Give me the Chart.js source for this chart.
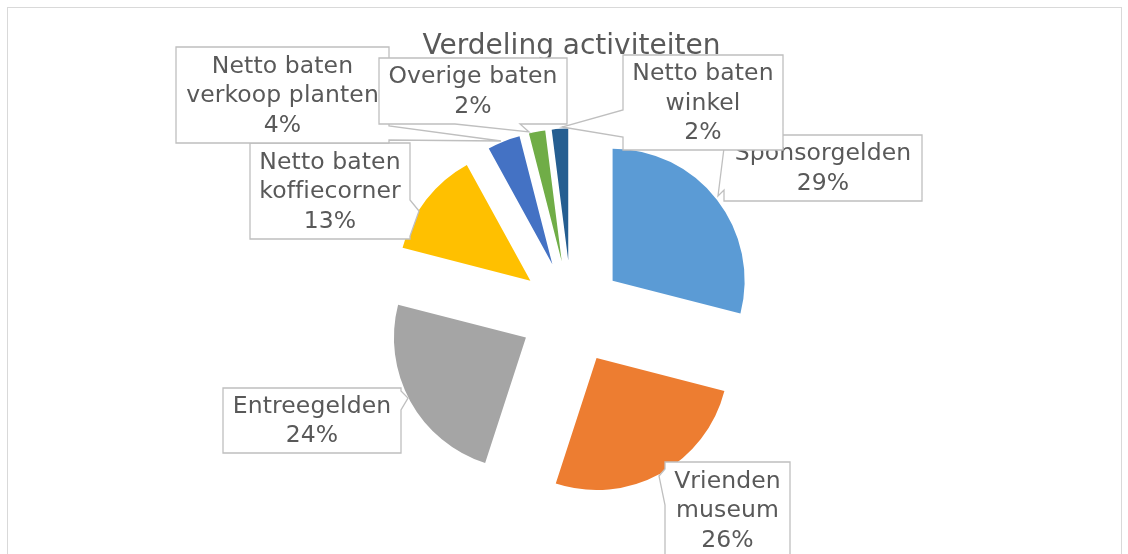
<!DOCTYPE html>
<html>
<head>
<meta charset="utf-8">
<title>Verdeling activiteiten</title>
<script src="https://cdn.jsdelivr.net/npm/chart.js@4.4.1/dist/chart.umd.min.js"></script>
<style>
  html, body { margin: 0; padding: 0; background: #ffffff; overflow: hidden; }
  #wrap { position: relative; width: 1128px; height: 554px; }
</style>
</head>
<body>
<div id="wrap"><canvas id="chart"></canvas></div>
<script>
const labels = ['Sponsorgelden', 'Vrienden museum', 'Entreegelden', 'Netto baten koffiecorner',
  'Netto baten verkoop planten', 'Overige baten', 'Netto baten winkel'];
const shares = [29, 26, 24, 13, 4, 2, 2];
const sliceColors = ['#5b9bd5', '#ed7d31', '#a5a5a5', '#ffc000', '#4472c4', '#70ad47', '#255e91'];

const textColor = '#595959';
const labelFont = '23.5px "DejaVu Sans", Verdana, sans-serif';
const EXPLODE = 52; // how far each slice is pulled out of the centre

// where the data label boxes sit, and the edge their pointer leaves from
const calloutBoxes = [
  { x: 724, y: 135, w: 198, h: 66, edge: 'left', from: 148, to: 190, tip: [718, 196] },
  { x: 665, y: 462, w: 125, h: 96, edge: 'left', from: 469, to: 505, tip: [659, 476] },
  { x: 223, y: 388, w: 178, h: 65, edge: 'right', from: 391, to: 410, tip: [408, 398] },
  { x: 250, y: 143, w: 160, h: 96, edge: 'right', from: 200, to: 236, tip: [419, 211] },
  { x: 176, y: 47, w: 213, h: 96, edge: 'right', from: 126, to: 140, tip: [501, 141] },
  { x: 379, y: 58, w: 188, h: 66, edge: 'bottom', from: 455, to: 520, tip: [529, 132] },
  { x: 623, y: 55, w: 160, h: 95, edge: 'left', from: 110, to: 137, tip: [562, 127] }
];

function wrapWords(ctx, text, maxWidth) {
  const words = text.split(' ');
  const lines = [];
  let line = '';
  words.forEach(word => {
    const test = line ? line + ' ' + word : word;
    if (line && ctx.measureText(test).width > maxWidth) {
      lines.push(line);
      line = word;
    } else {
      line = test;
    }
  });
  if (line) lines.push(line);
  return lines;
}

function calloutPath(ctx, b) {
  const x0 = b.x, y0 = b.y, x1 = b.x + b.w, y1 = b.y + b.h;
  const pts = [[x0, y0]];
  if (b.edge === 'top') pts.push([b.from, y0], b.tip, [b.to, y0]);
  pts.push([x1, y0]);
  if (b.edge === 'right') pts.push([x1, b.from], b.tip, [x1, b.to]);
  pts.push([x1, y1]);
  if (b.edge === 'bottom') pts.push([b.to, y1], b.tip, [b.from, y1]);
  pts.push([x0, y1]);
  if (b.edge === 'left') pts.push([x0, b.to], b.tip, [x0, b.from]);
  ctx.beginPath();
  pts.forEach((p, i) => i ? ctx.lineTo(p[0], p[1]) : ctx.moveTo(p[0], p[1]));
  ctx.closePath();
}

// pulls every slice outwards along its middle angle
const explodePlugin = {
  id: 'explode',
  afterDatasetUpdate(chart, args) {
    const meta = chart.getDatasetMeta(args.index);
    const area = chart.chartArea;
    const cx = (area.left + area.right) / 2;
    const cy = (area.top + area.bottom) / 2;
    meta.data.forEach(arc => {
      const mid = (arc.startAngle + arc.endAngle) / 2;
      arc.x = cx + Math.cos(mid) * EXPLODE;
      arc.y = cy + Math.sin(mid) * EXPLODE;
    });
  }
};

const framePlugin = {
  id: 'frame',
  beforeDraw(chart) {
    const ctx = chart.ctx;
    ctx.save();
    ctx.strokeStyle = '#d9d9d9';
    ctx.lineWidth = 1;
    ctx.strokeRect(7.5, 7.5, 1114, 700);
    ctx.restore();
  }
};

const calloutPlugin = {
  id: 'callouts',
  afterDraw(chart) {
    const ctx = chart.ctx;
    const total = shares.reduce((a, b) => a + b, 0);
    ctx.save();
    calloutBoxes.forEach((b, i) => {
      calloutPath(ctx, b);
      ctx.fillStyle = '#ffffff';
      ctx.fill();
      ctx.strokeStyle = '#bfbfbf';
      ctx.lineWidth = 1.3;
      ctx.stroke();

      ctx.font = labelFont;
      if ('letterSpacing' in ctx) ctx.letterSpacing = '0.1px'; // no ffi ligature
      ctx.fillStyle = textColor;
      ctx.textAlign = 'center';
      ctx.textBaseline = 'middle';
      const lines = wrapWords(ctx, labels[i], b.w - 6);
      lines.push(Math.round(shares[i] / total * 100) + '%');
      const lh = 29.5;
      const startY = b.y + b.h / 2 - (lines.length - 1) * lh / 2 + 1;
      lines.forEach((l, k) => ctx.fillText(l, b.x + b.w / 2, startY + k * lh));
    });
    ctx.restore();
  }
};

const ctx = document.getElementById('chart').getContext('2d');
new Chart(ctx, {
  type: 'pie',
  data: {
    labels: labels,
    datasets: [{
      data: shares,
      backgroundColor: sliceColors,
      borderWidth: 0,
      hoverOffset: 0
    }]
  },
  options: {
    responsive: true,
    maintainAspectRatio: false,
    animation: false,
    events: [],
    radius: 132,
    layout: { padding: { left: 15, right: 0, top: 0, bottom: 0 } },
    plugins: {
      legend: { display: false },
      tooltip: { enabled: false },
      title: {
        display: true,
        text: 'Verdeling activiteiten',
        color: textColor,
        font: { family: '"DejaVu Sans", Verdana, sans-serif', size: 28, weight: 'normal', lineHeight: 1.2 },
        padding: { top: 29.5, bottom: 7.9 }
      }
    }
  },
  plugins: [explodePlugin, framePlugin, calloutPlugin]
});
</script>
</body>
</html>
